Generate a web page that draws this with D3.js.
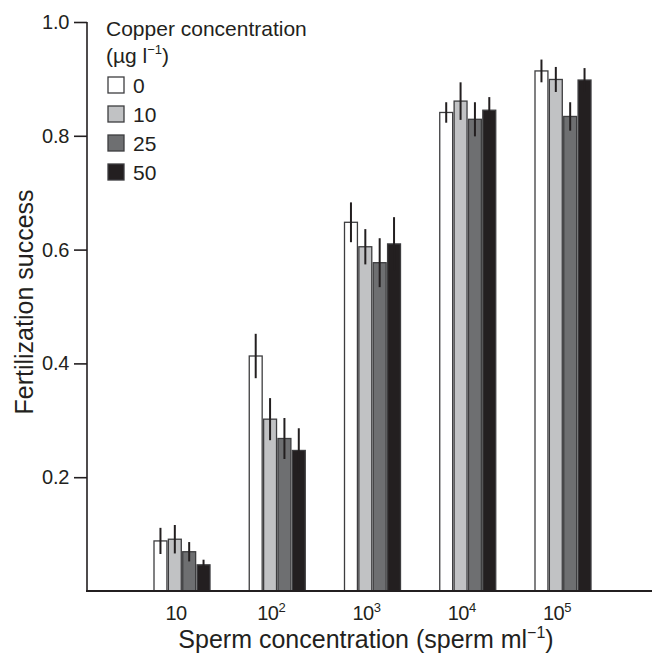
<!DOCTYPE html>
<html>
<head>
<meta charset="utf-8">
<script src="https://cdn.jsdelivr.net/npm/d3@7"></script>
<style>
  body { margin: 0; background: #fff; }
  svg text { font-family: "Liberation Sans", Arial, Helvetica, sans-serif; fill: #231f20; }
</style>
</head>
<body>
<svg id="chart"></svg>
<script>
/* sperm concentration groups (exponent of 10) */
const spermExp = [1, 2, 3, 4, 5];
/* copper concentration series (ug/l) */
const copperLevels = ["0", "10", "25", "50"];
const copperFills = ["#ffffff", "#c1c2c4", "#6e6f71", "#231f20"];

/* fertilization success, one array per copper level */
const cu0  = [0.088, 0.413, 0.648, 0.841, 0.914];
const cu10 = [0.091, 0.302, 0.605, 0.861, 0.899];
const cu25 = [0.069, 0.268, 0.577, 0.829, 0.834];
const cu50 = [0.046, 0.247, 0.610, 0.845, 0.898];

/* error bar half lengths */
const err0  = [0.023, 0.039, 0.035, 0.018, 0.020];
const err10 = [0.025, 0.037, 0.031, 0.033, 0.022];
const err25 = [0.017, 0.036, 0.043, 0.030, 0.025];
const err50 = [0.009, 0.039, 0.047, 0.023, 0.021];

const yTicks = [0.2, 0.4, 0.6, 0.8, 1.0];

const W = 653, H = 653;
const values = [cu0, cu10, cu25, cu50];
const errors = [err0, err10, err25, err50];

/* flatten into rows for d3 */
let rows = [];
copperLevels.forEach((lvl, s) => {
    spermExp.forEach((e, g) => {
        rows.push({group: e, series: lvl, si: s, v: values[s][g], err: errors[s][g]});
    });
});

const svg = d3.select("#chart").attr("width", W).attr("height", H);

const y = d3.scaleLinear().domain([0, 1]).range([591, 22]);
const xGroup = d3.scalePoint().domain(spermExp).range([182, 563]);
const xBar = d3.scaleBand().domain(copperLevels).range([-28, 28]).paddingInner(0.1);

/* bars */
svg.append("g").selectAll("rect")
    .data(rows)
    .enter()
    .append("rect")
    .attr("x", d => xGroup(d.group) + xBar(d.series))
    .attr("y", d => y(d.v))
    .attr("width", xBar.bandwidth())
    .attr("height", d => y(0) - y(d.v))
    .style("fill", d => copperFills[d.si])
    .style("stroke", "#3d3d3f")
    .style("stroke-width", 1.3);

/* error bars */
svg.append("g").selectAll("line")
    .data(rows)
    .enter()
    .append("line")
    .attr("x1", d => xGroup(d.group) + xBar(d.series) + xBar.bandwidth() / 2)
    .attr("x2", d => xGroup(d.group) + xBar(d.series) + xBar.bandwidth() / 2)
    .attr("y1", d => y(d.v + d.err))
    .attr("y2", d => y(d.v - d.err))
    .style("stroke", "#231f20")
    .style("stroke-width", 2);

/* y axis */
const yAxis = svg.append("g")
    .attr("transform", "translate(87,0)")
    .call(d3.axisLeft(y).tickValues(yTicks).tickFormat(d3.format(".1f")).tickSize(13).tickPadding(5));
yAxis.select(".domain").attr("d", "M0," + y(1) + "V" + y(0)).style("stroke", "#231f20").style("stroke-width", 1.6);
yAxis.selectAll(".tick line").style("stroke", "#231f20").style("stroke-width", 1.6);
yAxis.selectAll(".tick text").style("font-size", "20px").style("letter-spacing", "-0.3px");

/* x axis: plain baseline with no ticks */
svg.append("line")
    .attr("x1", 86).attr("x2", 652)
    .attr("y1", y(0)).attr("y2", y(0))
    .style("stroke", "#231f20").style("stroke-width", 1.8);

const xLabels = svg.append("g").selectAll("text")
    .data(spermExp)
    .enter()
    .append("text")
    .attr("x", d => xGroup(d) - 6)
    .attr("y", 620)
    .attr("text-anchor", "middle")
    .style("font-size", "20px")
    .style("letter-spacing", "-0.5px");
xLabels.append("tspan").text("10");
xLabels.filter(d => d > 1).append("tspan")
    .attr("dy", -8).style("font-size", "13px").text(d => d);

/* axis titles */
const xt = svg.append("text")
    .attr("x", 366).attr("y", 648)
    .attr("text-anchor", "middle")
    .style("font-size", "25px");
xt.append("tspan").text("Sperm concentration (sperm ml");
xt.append("tspan").attr("dy", -10).style("font-size", "16px").text("\u22121");
xt.append("tspan").attr("dy", 10).text(")");

svg.append("text")
    .attr("transform", "translate(33,302) rotate(-90)")
    .attr("text-anchor", "middle")
    .style("font-size", "25px")
    .text("Fertilization success");

/* legend */
const legend = svg.append("g").attr("id", "legend");
legend.append("text").attr("x", 106).attr("y", 36).style("font-size", "21px").text("Copper concentration");
const lt = legend.append("text").attr("x", 106).attr("y", 63).style("font-size", "21px");
lt.append("tspan").text("(\u00b5g l");
lt.append("tspan").attr("dy", -9).style("font-size", "13px").text("\u22121");
lt.append("tspan").attr("dy", 9).text(")");

const legendRow = d3.scalePoint().domain(copperLevels).range([85, 172]);
legend.selectAll("rect")
    .data(copperLevels)
    .enter()
    .append("rect")
    .attr("x", 108)
    .attr("y", d => legendRow(d) - 8)
    .attr("width", 16)
    .attr("height", 16)
    .style("fill", (d, i) => copperFills[i])
    .style("stroke", "#3d3d3f")
    .style("stroke-width", 1.3);
legend.selectAll("text.item")
    .data(copperLevels)
    .enter()
    .append("text")
    .attr("class", "item")
    .attr("x", 133)
    .attr("y", d => legendRow(d) + 8)
    .style("font-size", "21px")
    .text(d => d);
</script>
</body>
</html>
